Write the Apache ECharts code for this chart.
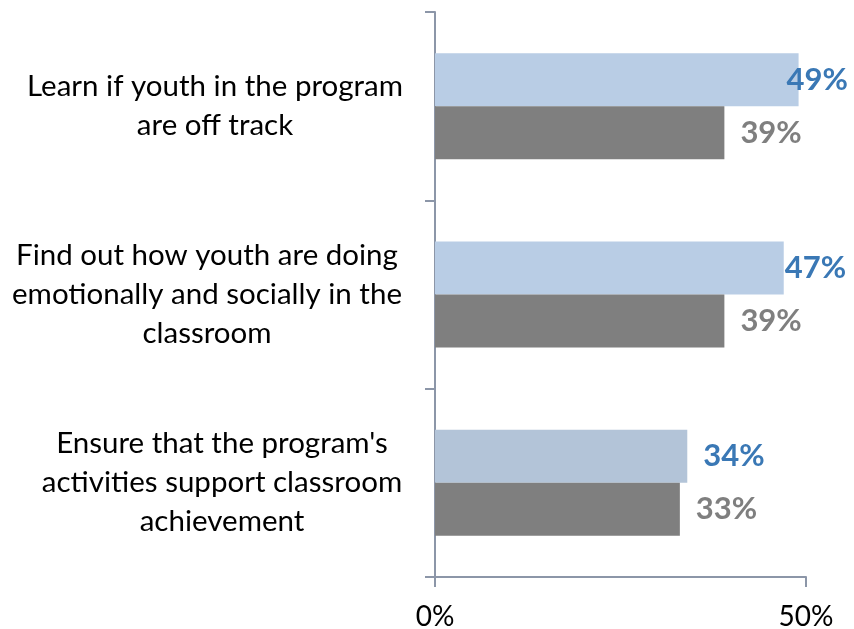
<!DOCTYPE html>
<html>
<head>
<meta charset="utf-8">
<script src="https://cdn.jsdelivr.net/npm/echarts@6/dist/echarts.min.js"></script>
<style>
  html, body { margin: 0; padding: 0; background: #fff; }
  #chart { width: 854px; height: 629px; }
</style>
</head>
<body>
<div id="chart"></div>
<script>
// Survey purposes (top to bottom)
const categories = [
  "Learn if youth in the program\nare off track",
  "Find out how youth are doing\nemotionally and socially in the\nclassroom",
  "Ensure that the program's\nactivities support classroom\nachievement"
];
// Percent values for the two groups
const seriesA = [49, 47, 34];
const seriesB = [39, 39, 33];
const xTicks = [0, 50];

const FONT = 'Lato, "Open Sans", sans-serif';
const lightColors = ['#b9cde5', '#b9cde5', '#b3c4d8'];
// nudges for labels that would run past the right edge
const labelShiftA = [-28, -15, 0];

const catStyle = pad => ({
  fontFamily: FONT, fontSize: 29.5, color: '#000', lineHeight: 39, padding: pad
});

const chart = echarts.init(document.getElementById('chart'));
chart.setOption({
  animation: false,
  grid: { left: 435, right: 48, top: 12, bottom: 52, outerBoundsMode: 'none', containLabel: false },
  xAxis: {
    type: 'value',
    min: xTicks[0],
    max: xTicks[xTicks.length - 1],
    interval: 50,
    axisLine: { show: true, lineStyle: { color: '#8c96a8', width: 2 } },
    axisTick: { show: true, length: 10, lineStyle: { color: '#8c96a8', width: 2 } },
    splitLine: { show: false },
    axisLabel: {
      formatter: v => v + '%',
      fontFamily: FONT, fontSize: 28, color: '#000', margin: 26
    }
  },
  yAxis: {
    type: 'category',
    inverse: true,
    data: categories,
    axisLine: { show: true, lineStyle: { color: '#8c96a8', width: 2 } },
    axisTick: { show: true, length: 10, lineStyle: { color: '#8c96a8', width: 2 } },
    axisLabel: {
      fontFamily: FONT, fontSize: 29.5, color: '#000',
      lineHeight: 39, align: 'center', margin: 220,
      formatter: (v, i) => v.split('\n').map(s => '{c' + i + '|' + s + '}').join('\n'),
      rich: {
        c0: catStyle([0, 0, 0, 0]),
        c1: catStyle([0, 16, 0, 0]),
        c2: catStyle([0, 0, 0, 14])
      }
    }
  },
  series: [
    {
      type: 'bar',
      data: seriesA.map((v, i) => ({
        value: v,
        itemStyle: { color: lightColors[i] },
        label: { offset: [labelShiftA[i], 0] }
      })),
      barWidth: 53,
      barGap: '0%',
      label: {
        show: true, position: 'right', distance: 16,
        formatter: p => p.value + '%',
        fontFamily: FONT, fontSize: 31, fontWeight: 'bold', color: '#3a78b5'
      }
    },
    {
      type: 'bar',
      data: seriesB,
      barWidth: 53,
      itemStyle: { color: '#7f7f7f' },
      label: {
        show: true, position: 'right', distance: 16,
        formatter: p => p.value + '%',
        fontFamily: FONT, fontSize: 31, fontWeight: 'bold', color: '#7f7f7f'
      }
    }
  ]
});
</script>
</body>
</html>
